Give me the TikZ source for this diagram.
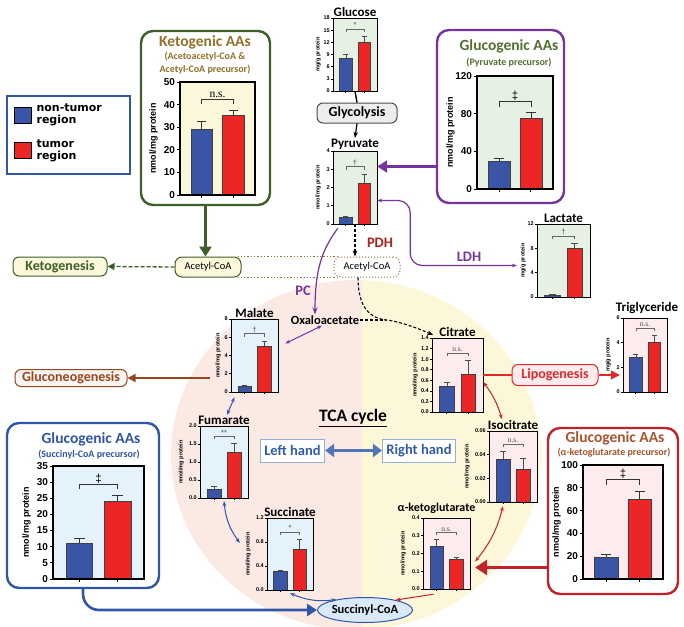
\documentclass[tikz,border=0pt]{standalone}
\usepackage{fontspec}
\setmainfont{Carlito}
\newfontfamily\axisfont{Liberation Sans}
\newfontfamily\sigserif{Liberation Serif}
\newfontfamily\legendfont{DejaVu Sans}
\usepackage{tikz}
\usetikzlibrary{arrows.meta,positioning,shapes.geometric}
\usepackage{xcolor}
\definecolor{cBar}{RGB}{58,84,166}
\definecolor{cBarRed}{RGB}{236,38,36}
\definecolor{bgGreen}{RGB}{230,241,227}
\definecolor{bgYellow}{RGB}{250,247,218}
\definecolor{bgBlue}{RGB}{228,242,251}
\definecolor{bgPink}{RGB}{252,236,238}
\definecolor{cKeto}{RGB}{62,96,40}
\definecolor{cKetoTxt}{RGB}{148,112,42}
\definecolor{cPur}{RGB}{118,52,160}
\definecolor{cPyrTxt}{RGB}{82,112,48}
\definecolor{cSuc}{RGB}{48,86,168}
\definecolor{cSco}{RGB}{218,233,248}
\definecolor{cAkg}{RGB}{196,34,40}
\definecolor{cAkgTxt}{RGB}{168,84,44}
\definecolor{cPDH}{RGB}{172,32,32}
\definecolor{cBrown}{RGB}{150,72,28}
\definecolor{cLipo}{RGB}{226,40,40}
\definecolor{tcaPink}{RGB}{251,233,228}
\definecolor{tcaYellow}{RGB}{253,247,218}
\definecolor{cHand}{RGB}{50,92,168}
\definecolor{cHandLine}{RGB}{150,175,215}
\definecolor{cAcetyl}{RGB}{150,115,50}

\tikzset{
  chartfill/.code={\def\chartbg{#1}},
  ylab/.code={\def\ylabtext{#1}},
  ylaboff/.code={\def\ylaboff{#1}},
  ticklen/.code={\def\ticklen{#1}},
  chartfill=bgGreen, ylab={nmol/mg protein}, ylaboff=11, ticklen=2,
  ticklab/.style={font=\axisfont\bfseries\fontsize{5.5}{6}\selectfont, anchor=east, inner sep=1pt},
  ylabnode/.style={font=\axisfont\bfseries\fontsize{5.6}{6}\selectfont, rotate=90, anchor=south, inner sep=0pt},
  chartframe/.style={line width=0.9pt},
  barblue/.style={fill=cBar, draw=black!75, line width=0.4pt},
  barred/.style={fill=cBarRed, draw=black!75, line width=0.4pt},
  errbar/.style={draw=black!70, line width=0.5pt},
  sigbracket/.style={draw=black!60, line width=0.5pt},
  signode/.style={font=\axisfont\fontsize{7.5}{8}\selectfont, text=black!70, anchor=south, inner sep=0.8pt},
  tickmark/.style={line width=0.6pt},
  bigchart/.style={
    ticklab/.style={font=\axisfont\bfseries\fontsize{10}{10}\selectfont, anchor=east, inner sep=1.5pt},
    ylabnode/.style={font=\axisfont\bfseries\fontsize{9}{9}\selectfont, rotate=90, anchor=south, inner sep=0pt},
    chartframe/.style={line width=1.4pt},
    errbar/.style={draw=black!80, line width=0.8pt},
    sigbracket/.style={draw=black!80, line width=0.8pt},
    signode/.style={font=\axisfont\fontsize{11.5}{12}\selectfont, anchor=south, inner sep=1pt},
    tickmark/.style={line width=1pt},
    ylaboff=22, ticklen=3},
}

% bar chart: name, lower-left corner, width, height, ymax, ticks, bars, significance
\newcommand\barchart[9][]{%
  \begin{scope}[shift={#3},#1]
    \pgfmathsetmacro\cw{#4}
    \pgfmathsetmacro\ch{#5}
    \pgfmathsetmacro\cu{#5/#6}
    \fill[fill=\chartbg] (0,0) rectangle (\cw,-\ch);
    \node[inner sep=0pt, minimum width=\cw pt, minimum height=\ch pt] (#2) at (\cw/2,-\ch/2) {};
    \foreach \tv/\tlab in {#7}
      \draw[tickmark] (0,-\tv*\cu) -- ++(-\ticklen,0) node[ticklab] {\tlab};
    \foreach \bv/\be/\rv/\re in {#8}{
      \pgfmathsetmacro\bx{0.29*\cw}
      \pgfmathsetmacro\rx{0.71*\cw}
      \pgfmathsetmacro\bw{0.145*\cw}
      \pgfmathsetmacro\capw{0.06*\cw}
      \pgfmathsetmacro\tp{(max(\be,\re)+0.1*#6)*\cu}
      \pgfmathsetmacro\leg{0.045*\ch}
      \draw[errbar] (\bx,-\bv*\cu) -- (\bx,-\be*\cu) (\bx-\capw,-\be*\cu) -- (\bx+\capw,-\be*\cu);
      \draw[errbar] (\rx,-\rv*\cu) -- (\rx,-\re*\cu) (\rx-\capw,-\re*\cu) -- (\rx+\capw,-\re*\cu);
      \filldraw[barblue] (\bx-\bw,0) rectangle (\bx+\bw,-\bv*\cu);
      \filldraw[barred] (\rx-\bw,0) rectangle (\rx+\bw,-\rv*\cu);
      \draw[sigbracket] (\bx,-\tp+\leg) -- (\bx,-\tp) -- (\rx,-\tp) -- (\rx,-\tp+\leg);
      \node[signode] at ({(\bx+\rx)/2},-\tp) {#9};
      \draw[tickmark] (\bx,0) -- ++(0,\ticklen) (\rx,0) -- ++(0,\ticklen);
    }
    \draw[chartframe] (0,0) rectangle (\cw,-\ch);
    \node[ylabnode] at (-\ylaboff,-\ch/2) {\ylabtext};
  \end{scope}}

\begin{document}
\begin{tikzpicture}[x=1pt,y=-1pt,
  ctitle/.style={font=\bfseries\fontsize{13}{13}\selectfont, inner sep=1pt},
  boxtitle/.style={font=\bfseries\fontsize{15.5}{16}\selectfont, inner sep=0pt},
  boxsub/.style={font=\bfseries\fontsize{10}{13}\selectfont, inner sep=0pt, align=center},
  aabox/.style={rectangle, rounded corners=12pt, line width=2.4pt, fill=white},
  pathbox/.style={rectangle, rounded corners=6pt, line width=1pt, inner xsep=5pt, inner ysep=0pt,
    minimum height=20pt, font=\bfseries\fontsize{14}{14}\selectfont},
  acbox/.style={rectangle, rounded corners=7pt, line width=1pt, minimum width=66pt,
    minimum height=20pt, font=\fontsize{10.5}{11}\selectfont},
  handbox/.style={rectangle, draw=cHandLine, line width=1pt, fill=white, text=cHand,
    font=\bfseries\fontsize{14.5}{15}\selectfont, minimum height=23pt, inner xsep=4pt},
  pathlabel/.style={font=\bfseries\fontsize{14.5}{15}\selectfont},
  legsq/.style={draw=black, line width=0.8pt, minimum width=17pt, minimum height=16pt, inner sep=0pt},
  legtxt/.style={font=\legendfont\bfseries\fontsize{11}{12}\selectfont, align=left, inner sep=0pt},
  bigarrow/.style={line width=2.6pt, -{Triangle[length=10pt,width=12pt]}},
  thinarrow/.style={line width=1pt, {Stealth[length=5pt]}-{Stealth[length=5pt]}},
  blkdash/.style={line width=1.1pt, dash pattern=on 3pt off 2pt},
]
\useasboundingbox (0,0) rectangle (684,626);

% TCA cycle background
\begin{scope}
  \clip (356,455) ellipse [x radius=185, y radius=175];
  \fill[tcaPink] (160,270) rectangle (362,640);
  \fill[tcaYellow] (362,270) rectangle (560,640);
\end{scope}

% legend
\node[draw=cSuc, line width=1.2pt, minimum width=123pt, minimum height=78pt] (legend) at (68.5,135) {};
\node[legsq, fill=cBar] (legB) at (22.5,115) {};
\node[legtxt, right=5pt of legB] (legBt) {non-tumor\\region};
\node[legsq, fill=cBarRed] (legR) at (22.5,150.5) {};
\node[legtxt, right=5pt of legR] (legRt) {tumor\\region};

% amino acid boxes
\node[aabox, draw=cKeto, minimum width=129pt, minimum height=174pt] (keto) at (205.5,118) {};
\node[boxtitle, text=cKetoTxt] (ketoT) at (205,42) {Ketogenic AAs};
\node[boxsub, text=cKetoTxt] (ketoS) at (205,63.5) {(Acetoacetyl-CoA \&\\Acetyl-CoA precursor)};
\node[aabox, draw=cPur, minimum width=127pt, minimum height=173pt] (gpyr) at (500.5,116.5) {};
\node[boxtitle, text=cPyrTxt] (gpyrT) at (509,46) {Glucogenic AAs};
\node[boxsub, text=cPyrTxt] (gpyrS) at (509,63) {(Pyruvate precursor)};
\node[aabox, draw=cSuc, minimum width=152pt, minimum height=165pt] (gsuc) at (83,505.5) {};
\node[boxtitle, text=cSuc] (gsucT) at (91,439) {Glucogenic AAs};
\node[boxsub, text=cSuc] (gsucS) at (89,455) {(Succinyl-CoA precursor)};
\node[aabox, draw=cAkg, minimum width=130pt, minimum height=166pt] (gakg) at (613,511) {};
\node[boxtitle, text=cAkgTxt] (gakgT) at (615,438) {Glucogenic AAs};
\node[boxsub, text=cAkgTxt] (gakgS) at (614,453) {(α-ketoglutarate precursor)};

% charts
\barchart[ylab=mg/g protein, ylaboff=12]{glc}{(333,91)}{44}{73}{18}{0/0,3/3,6/6,9/9,12/12,15/15,18/18}{8/9/12/13.5}{*}
\barchart[ylaboff=12]{pyr}{(333,224)}{44}{73}{4}{0/0,1/1,2/2,3/3,4/4}{0.35/0.45/2.25/2.75}{†}
\barchart[ylab=mg/g protein, ylaboff=11]{lac}{(537,297)}{53}{73}{12}{0/0,4/4,8/8,12/12}{0.3/0.4/8/8.8}{†}
\barchart[bigchart]{gpyrC}{(477,189)}{76}{113}{120}{0/0,40/40,80/80,120/120}{29/33/75/81}{‡}
\barchart[bigchart, chartfill=bgYellow]{ketoC}{(180,195)}{75}{113}{50}{0/0,10/10,20/20,30/30,40/40,50/50}{29/32.5/35.5/37.5}{\sigserif n.s.}
\barchart[chartfill=bgBlue, ylaboff=10]{mal}{(231,392)}{47}{73}{8}{0/0,2/2,4/4,6/6,8/8}{0.6/0.7/5/5.6}{†}
\barchart[chartfill=bgPink, ylaboff=14]{cit}{(432,412)}{51}{74}{1.4}{0/0.0,0.2/0.2,0.4/0.4,0.6/0.6,0.8/0.8,1.0/1.0,1.2/1.2,1.4/1.4}{0.48/0.56/0.71/0.98}{\sigserif n.s.}
\barchart[chartfill=bgPink, ylab=mg/g protein, ylaboff=12]{tri}{(623,392)}{44}{74}{6}{0/0,2/2,4/4,6/6}{2.8/3.05/4.05/4.6}{\sigserif n.s.}
\barchart[chartfill=bgPink, ylaboff=19]{iso}{(489,502)}{48}{71}{0.06}{0/0.00,0.02/0.02,0.04/0.04,0.06/0.06}{0.036/0.043/0.028/0.037}{\sigserif n.s.}
\barchart[chartfill=bgPink, ylaboff=17]{akg}{(423,589)}{47}{71}{0.4}{0/0.0,0.1/0.1,0.2/0.2,0.3/0.3,0.4/0.4}{0.24/0.28/0.17/0.18}{\sigserif n.s.}
\barchart[bigchart, chartfill=bgPink]{gakgC}{(583,579)}{80}{114}{100}{0/0,20/20,40/40,60/60,80/80,100/100}{19/22/70/77}{‡}
\barchart[chartfill=bgBlue, ylaboff=16]{suc}{(267,590)}{46}{72}{1.2}{0/0.0,0.4/0.4,0.8/0.8,1.2/1.2}{0.32/0.33/0.68/0.85}{*}
\barchart[chartfill=bgBlue, ylaboff=16]{fum}{(200,498)}{48}{72}{2.0}{0/0.0,0.5/0.5,1.0/1.0,1.5/1.5,2.0/2.0}{0.25/0.33/1.27/1.52}{**}
\barchart[bigchart, chartfill=bgBlue]{gsucC}{(53,579)}{91}{113}{35}{0/0,5/5,10/10,15/15,20/20,25/25,30/30,35/35}{11/12.5/24/25.8}{‡}

% chart titles
\node[ctitle, above=0pt of glc] (glcT) {Glucose};
\node[ctitle, above=0pt of pyr] (pyrT) {Pyruvate};
\node[ctitle, above=0pt of lac] (lacT) {Lactate};
\node[ctitle, above=0pt of mal] (malT) {Malate};
\node[ctitle, above=0pt of cit] (citT) {Citrate};
\node[ctitle, above=3pt of tri, xshift=2pt] (triT) {Triglyceride};
\node[ctitle, above=0pt of iso] (isoT) {Isocitrate};
\node[ctitle, font=\bfseries\fontsize{12}{12}\selectfont, above=3pt of akg, xshift=-10pt] (akgT) {α-ketoglutarate};
\node[ctitle, above=0pt of suc] (sucT) {Succinate};
\node[ctitle, above=0pt of fum] (fumT) {Fumarate};

% pathway nodes
\node[pathbox, draw=black!70, fill=black!7, minimum width=80pt] (glyco) at (357,113) {Glycolysis};
\node[pathbox, draw=cKeto, fill=bgYellow, text=cKeto, minimum width=94pt, minimum height=19pt] (ketogen) at (60,266.5) {Ketogenesis};
\node[pathbox, draw=cBrown, fill=cBrown!6, text=cBrown, minimum width=112pt, minimum height=17pt] (gng) at (71,378) {Gluconeogenesis};
\node[pathbox, draw=cLipo, fill=bgPink, text=cLipo, minimum width=86pt, minimum height=21pt] (lipo) at (555,375) {Lipogenesis};
\node[acbox, draw=cKeto, fill=bgYellow] (acL) at (208,267) {Acetyl-CoA};
\node[acbox, draw=cAcetyl, dotted, fill=white] (acR) at (367,267) {Acetyl-CoA};
\node[font=\bfseries\fontsize{12.5}{13}\selectfont, inner sep=1pt] (oxa) at (325,320) {Oxaloacetate};
\node[ellipse, draw=cSuc, line width=1pt, fill=cSco, font=\bfseries\fontsize{12.5}{13}\selectfont,
  minimum width=95pt, minimum height=25pt, inner sep=0pt] (sco) at (365,610) {Succinyl-CoA};
\node[font=\bfseries\fontsize{17.5}{18}\selectfont] (tca) at (353,418) {\underline{TCA cycle}};
\node[handbox] (lefth) at (292.5,450.5) {Left hand};
\node[handbox] (righth) at (419,450.5) {Right hand};

% labels on connectors
\node[pathlabel, text=cPDH] (pdh) at (380,243) {PDH};
\node[pathlabel, text=cPur] (pc) at (303,291) {PC};
\node[pathlabel, text=cPur] (ldh) at (469,257) {LDH};

% glycolysis
\draw[line width=1.4pt] (glc.south) -- (glyco.north);
\draw[line width=1.2pt, -{Stealth[length=6pt]}] (glyco.south) -- (pyrT.north);

% acetyl-CoA
\draw[cAcetyl, dotted, line width=1.3pt] ([xshift=-4pt]acL.north east) -- ([xshift=4pt]acR.north west)
  ([xshift=-4pt]acL.south east) -- ([xshift=4pt]acR.south west);
\draw[bigarrow, cKeto] (keto.south) -- (keto.south |- acL.north);
\draw[cKeto, line width=1.3pt, dash pattern=on 4pt off 2pt, -{Triangle[length=7pt,width=7pt]}] (acL.west) -- (ketogen.east);
\draw[blkdash, -{Stealth[length=6pt]}] (pyr.south) -- (pyr.south |- acR.north);

% pyruvate branches
\coordinate (pyrin) at ([yshift=21pt]pyr.east);
\draw[bigarrow, cPur, line width=2.2pt] (pyrin -| gpyr.west) -- (pyrin);
\draw[cPur, thinarrow, line width=1.2pt, rounded corners=12pt] ([yshift=-13pt]pyr.east) -- ++(33,0) |- ([xshift=-20pt,yshift=-5pt]lac.west);
\draw[cPur, line width=1.2pt, -{Stealth[length=7pt]}] ([xshift=5pt,yshift=-4pt]pyr.south west)
  .. controls +(-16,22) and +(0,-45) .. ([xshift=-10pt]oxa.north);
\draw[cPur, thinarrow] ([xshift=-3pt]oxa.south) -- ([xshift=7pt,yshift=12pt]mal.east);

% acetyl-CoA and oxaloacetate to citrate
\coordinate (ocjoin) at ([xshift=26pt]oxa.east);
\draw[blkdash] (oxa.east) -- (ocjoin);
\draw[blkdash, -{Stealth[length=6pt]}] ([xshift=-9pt]acR.south) .. controls +(0,28) and +(-18,-2) .. (ocjoin)
  .. controls +(16,2) and +(-14,-6) .. ([xshift=-5pt,yshift=-3pt]citT.west);

% lipogenesis
\draw[cLipo, line width=1.2pt] (cit.east) -- (lipo.west);
\draw[cLipo, line width=1.2pt, shorten >=3pt, -{Triangle[length=9pt,width=9pt]}] (lipo.east) -- (lipo.east -| tri.west);

% right hand of the cycle
\draw[cAkg, thinarrow] ([yshift=-7pt]cit.east) to[bend left=10] ([xshift=-11pt]isoT.north);
\draw[cAkg, thinarrow] ([xshift=-10pt,yshift=-4pt]iso.south) to[bend left=12] ([xshift=5pt,yshift=-8pt]akg.east);
\coordinate (akgin) at ([xshift=5pt,yshift=-14pt]akg.east);
\draw[bigarrow, cAkg, line width=3pt, -{Triangle[length=12pt,width=15pt]}] (akgin -| gakg.west) -- (akgin);
\draw[cAkg, line width=1pt, -{Stealth[length=5pt]}] ([xshift=-13pt,yshift=-5pt]akg.south) -- (sco.18);

% left hand of the cycle
\draw[bigarrow, cSuc, rounded corners=16pt] (gsuc.south) |- (sco.west);
\draw[cSuc, thinarrow] (sco.160) to[bend left=15] ([yshift=-3pt]suc.south);
\draw[cSuc, thinarrow] ([xshift=-27pt,yshift=11pt]suc.west) to[bend left=15] ([yshift=-3pt]fum.south);
\draw[cSuc, thinarrow] ([xshift=3pt]fumT.north) -- ([xshift=-20pt,yshift=-5pt]mal.south);
\coordinate (malout) at ([xshift=-21pt]mal.west);
\draw[cBrown, line width=1.3pt, -{Triangle[length=8pt,width=8pt]}] (malout |- gng.east) -- (gng.east);

% left / right hand
\draw[cHand!85, line width=3pt, {Triangle[length=9pt,width=13pt]}-{Triangle[length=9pt,width=13pt]}] (lefth) -- (righth);
\end{tikzpicture}
\end{document}
